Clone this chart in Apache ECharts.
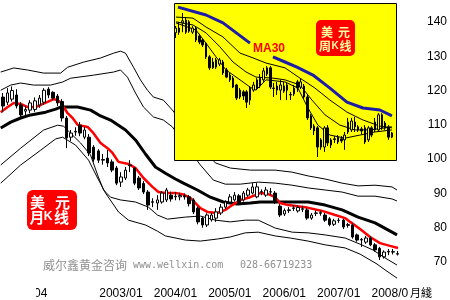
<!DOCTYPE html>
<html><head><meta charset="utf-8">
<script src="https://cdn.jsdelivr.net/npm/echarts/dist/echarts.min.js"></script>
<style>html,body{margin:0;padding:0;background:#fff}#c{width:450px;height:300px}</style>
</head><body><div id="c"></div>
<script>
// ---------- monthly (main) chart ----------
const monthCategories = [];
for (let i = 0; i < 88; i++) { const t = 2000 * 12 + 10 + i; monthCategories.push(Math.floor(t / 12) + '/' + String(t % 12 + 1).padStart(2, '0')); }
const xTickLabels = ['2001/04', '2003/01', '2004/01', '2005/01', '2006/01', '2007/01', '2008/01'];
const yTickLabels = [70, 80, 90, 100, 110, 120, 130, 140];

// [open, close, low, high]
const monthlyOHLC = [
[118.1,115.5,113.7,119.3],[116.6,119.3,115.8,120.7],[117.5,120.0,116.8,121.2],[118.7,115.5,114.8,120.4],[115.8,112.9,112.3,116.6],
[114.0,114.5,112.5,115.5],[114.3,116.4,113.4,117.2],[114.5,117.0,113.8,118.0],[115.8,117.8,115.0,118.7],[116.6,120.1,115.8,120.7],
[120.4,118.7,117.8,121.0],[119.5,117.8,117.2,119.8],[118.4,116.4,115.5,119.0],[116.8,112.0,111.0,117.5],[112.0,106.2,103.2,112.6],
[106.4,107.6,105.3,108.5],[107.9,108.1,106.8,109.3],[109.9,107.6,106.7,110.8],[106.4,108.5,105.8,109.4],[106.4,101.8,100.9,107.3],
[103.5,100.0,99.2,104.1],[102.4,99.7,98.9,102.9],[99.7,99.9,98.4,101.5],[100.3,98.9,97.7,102.7],[99.2,96.8,96.2,99.9],
[97.4,93.0,92.4,98.0],[93.3,94.8,91.9,96.2],[94.5,96.8,93.9,97.7],[98.1,98.3,96.2,99.7],[97.4,93.0,92.4,97.7],
[94.5,91.6,91.0,95.1],[92.9,90.4,89.8,93.6],[90.4,86.6,85.2,91.0],[87.4,87.6,86.0,88.6],[87.2,88.1,85.2,89.5],
[87.5,90.1,87.0,90.7],[88.1,91.0,87.5,91.6],[89.5,88.4,87.6,90.5],[89.2,89.0,88.0,90.4],[89.0,89.4,88.0,90.2],
[89.3,89.0,88.2,90.0],[89.0,87.0,86.2,89.5],[88.1,84.6,84.0,88.6],[85.7,81.7,81.0,86.2],[82.8,80.8,80.0,83.2],
[80.8,83.7,80.2,84.2],[82.3,83.7,81.8,84.4],[82.8,84.6,81.7,85.7],[84.3,86.0,83.7,86.9],[86.0,87.5,85.4,88.0],
[87.5,89.0,87.0,89.8],[88.1,89.5,87.6,90.4],[89.3,87.2,86.6,89.8],[88.1,90.1,87.6,90.7],[89.5,91.0,89.0,91.6],
[90.1,91.9,89.7,93.0],[89.0,91.9,88.6,93.0],[90.5,90.4,89.5,91.2],[89.5,91.0,89.0,91.9],[90.4,90.5,89.5,91.6],
[90.1,87.5,86.9,90.7],[86.3,83.7,83.1,86.9],[84.0,85.0,83.4,85.6],[85.0,85.2,84.3,86.0],[85.6,85.8,84.9,86.6],
[84.9,85.9,84.4,86.6],[85.5,85.4,84.6,86.4],[85.2,82.8,82.3,85.7],[82.8,83.7,82.3,84.3],[84.2,84.3,83.4,85.0],
[84.4,84.2,83.5,85.0],[83.7,82.2,81.7,84.3],[82.6,80.9,80.4,83.1],[81.0,82.0,80.5,82.6],[82.1,82.2,81.4,82.8],
[82.2,80.2,79.6,82.6],[80.9,80.7,80.0,81.4],[80.8,77.3,76.8,81.3],[77.9,76.4,75.9,78.3],[76.4,76.6,74.4,77.0],
[75.8,77.0,75.3,77.6],[77.0,75.0,74.6,77.6],[75.0,73.5,73.0,75.5],[74.0,71.5,70.6,74.4],[71.5,72.9,71.0,73.4],
[72.9,73.1,72.0,73.8],[73.0,72.9,72.2,73.8],[72.4,72.3,71.9,73.2]
];

// lines: [month index, value]
const redMA = [[-0.5,113.7],[1.04,115.2],[2.36,116.4],[3.9,116.1],[5.44,115.2],[7.2,115.2],[8.3,115.8],[9.84,116.7],[11.16,117.5],[12.04,117.2],[12.7,116.6],[13.36,115.2],[14.24,113.4],[15.34,112.0],[16.44,110.0],[18.64,109.4],[19.74,107.9],[21.5,104.7],[23.04,103.2],[24.14,101.8],[25.46,99.2],[27.66,98.6],[29.2,97.4],[30.96,94.5],[32.94,91.9],[34.26,90.4],[35.8,90.1],[38.0,90.1],[39.54,89.8],[41.3,88.7],[43.5,85.7],[45.04,84.6],[47.24,84.3],[49.0,85.2],[50.54,86.6],[52.3,88.1],[54.5,88.9],[56.7,90.1],[58.46,89.8],[60.0,88.9],[61.1,87.2],[62.86,86.6],[66.6,86.0],[70.34,84.9],[73.2,83.7],[75.4,82.8],[76.5,81.7],[78.7,79.6],[80.9,77.3],[83.1,75.5],[85.3,74.7],[87.06,74.1]];
const blackMA = [[-0.5,109.1],[1.7,110.8],[3.9,112.0],[6.1,112.9],[9.4,113.7],[11.6,114.6],[12.7,115.2],[16.44,115.2],[19.3,114.3],[21.5,112.6],[23.7,111.4],[27.0,108.5],[29.2,105.6],[31.4,101.5],[33.6,97.7],[35.8,95.9],[38.0,94.2],[39.76,93.0],[42.84,91.0],[45.7,88.9],[48.56,87.5],[51.64,86.9],[54.5,87.2],[56.7,87.5],[60.0,87.5],[63.74,87.5],[67.26,87.5],[71.0,86.6],[74.74,85.2],[78.26,83.1],[82.0,81.4],[85.74,78.7],[86.84,77.9]];
const bandUpper2 = [[-0.5,125.4],[2.36,126.6],[5.44,126.0],[8.96,125.1],[12.7,125.1],[14.24,126.8],[17.76,128.3],[21.5,129.5],[24.36,130.9],[25.9,131.5],[27.0,130.9],[28.76,126.8],[30.3,123.1],[31.84,120.1],[33.16,118.1],[35.36,117.2],[37.34,114.3],[42.4,105.6],[46.8,98.9],[50.1,97.4],[54.5,96.8],[60.0,96.8],[63.74,96.2],[67.26,95.1],[71.0,94.2],[74.74,93.0],[78.26,92.2],[82.0,92.4],[85.74,91.9],[86.84,91.0]];
const bandUpper1 = [[-0.5,120.1],[1.7,121.6],[3.9,122.2],[6.76,121.6],[10.5,121.6],[13.14,122.5],[14.9,123.6],[19.96,124.5],[24.36,125.4],[25.9,126.0],[27.44,123.9],[29.2,119.3],[30.96,115.2],[33.16,112.3],[35.36,111.4],[37.34,109.4],[40.2,104.1],[43.5,98.3],[46.36,93.9],[49.0,92.7],[52.3,92.7],[56.26,93.3],[60.0,93.0],[63.74,92.4],[67.26,91.6],[71.0,91.0],[74.74,90.4],[78.26,89.2],[82.0,89.2],[85.74,88.4],[86.84,87.8]];
const bandLower1 = [[-0.5,98.3],[3.9,103.2],[8.96,108.5],[12.04,109.9],[13.36,109.6],[15.34,107.0],[17.1,104.7],[19.3,101.2],[20.84,95.4],[22.16,91.0],[23.7,88.9],[25.9,88.1],[29.2,87.5],[32.06,86.0],[34.04,83.7],[36.24,82.5],[40.2,83.1],[43.5,83.4],[46.8,82.2],[50.1,81.7],[53.4,82.2],[56.26,82.2],[60.0,79.9],[63.74,78.7],[67.26,78.5],[71.0,77.9],[75.4,77.0],[78.7,75.2],[81.56,73.5],[84.2,71.2],[86.84,69.1]];
const bandLower2 = [[-0.5,93.0],[3.9,98.3],[8.3,102.6],[11.6,105.9],[13.14,106.4],[16.0,104.1],[18.86,99.7],[20.84,94.5],[22.6,90.1],[25.46,84.6],[27.66,82.2],[31.4,80.8],[34.04,79.0],[35.8,77.6],[40.2,76.4],[43.5,76.1],[47.24,76.7],[50.1,77.3],[53.4,78.5],[56.26,78.7],[60.0,77.6],[63.3,77.0],[67.26,76.1],[71.0,75.0],[75.4,74.1],[78.7,72.3],[82.44,69.4],[84.2,67.7],[86.84,65.3]];

// ---------- weekly (inset) chart ----------
const weekCategories = [];
for (let k = 0; k < 66; k++) weekCategories.push(String(k));
const weeklyOHLC = [
[136.8,138.2,135.3,138.8],[138.2,137.0,136.2,140.0],[139.7,140.3,137.0,142.6],[140.5,137.0,136.5,141.4],[140.0,137.3,136.8,140.5],
[137.0,138.2,136.5,138.8],[138.2,134.7,134.1,138.8],[135.9,134.1,133.5,136.5],[134.7,133.3,132.7,135.3],[133.8,129.8,129.2,134.1],
[129.8,126.6,126.0,130.3],[126.6,128.3,126.3,129.5],[126.8,128.9,126.3,129.5],[127.7,128.9,127.1,129.5],[128.3,125.1,124.5,128.9],
[126.0,123.9,123.6,126.6],[124.5,123.1,122.5,125.1],[123.6,121.0,120.7,124.2],[121.6,117.8,117.2,121.9],[120.1,118.1,117.5,120.7],
[119.6,118.4,117.2,120.1],[119.6,116.6,114.9,120.1],[117.2,120.7,115.8,121.3],[120.1,121.6,119.6,122.5],[120.7,123.1,120.1,123.6],
[121.3,123.6,120.7,124.8],[123.1,125.7,122.5,126.6],[124.8,126.6,124.2,127.1],[126.6,121.0,120.4,127.1],[120.7,120.6,118.1,122.2],
[120.1,121.3,118.7,122.5],[120.1,121.6,117.2,123.1],[119.8,121.3,119.3,122.5],[121.6,120.1,117.2,122.2],[118.8,118.7,117.2,119.6],
[119.0,120.7,118.4,121.6],[122.5,120.7,119.6,123.1],[121.0,122.5,120.4,123.6],[121.3,118.1,117.5,121.9],[118.1,112.0,111.4,118.7],
[112.6,109.1,108.5,113.1],[109.6,108.2,107.0,110.2],[109.1,103.5,100.6,109.6],[103.5,105.6,102.7,106.1],[103.5,109.1,102.1,109.6],
[109.1,104.7,103.8,109.9],[104.1,105.6,103.2,106.1],[105.9,105.7,104.7,106.7],[106.4,105.0,104.4,107.0],[105.9,105.3,104.7,106.7],
[105.6,107.0,102.7,107.9],[107.9,110.8,107.3,112.0],[108.5,111.1,107.9,112.0],[110.8,109.4,107.9,112.3],[109.4,108.5,107.9,109.9],
[108.8,108.2,107.3,109.4],[109.1,105.0,104.4,109.9],[105.6,109.1,105.0,109.6],[109.1,107.0,106.4,109.6],[108.5,110.8,107.9,112.0],
[108.5,112.9,107.9,113.4],[112.9,109.1,108.5,113.4],[110.5,109.1,108.5,111.1],[109.4,106.4,105.6,109.9],[106.4,107.6,106.1,107.9]
];
const ma30A = [[0.68,144.3],[8.97,142.0],[14.0,139.7],[21.98,133.8]];
const ma30B = [[28.79,129.8],[32.34,128.3],[35.89,126.8],[40.62,124.5],[45.65,120.7],[50.68,116.6],[55.42,114.9],[60.45,114.3],[64.0,112.6]];
const ma20 = [[0.09,141.4],[5.12,141.1],[8.97,138.5],[14.0,135.6],[19.03,130.9],[22.87,129.5],[26.72,128.0],[32.34,126.6],[36.78,123.6],[41.22,120.7],[45.65,117.2],[50.68,113.7],[55.42,111.4],[60.45,109.6],[64.0,109.1]];
const ma10 = [[0.09,140.0],[5.12,139.1],[8.97,136.8],[13.11,132.7],[16.96,128.3],[20.8,125.4],[23.76,123.9],[28.79,123.6],[32.34,123.1],[36.78,121.6],[40.33,117.2],[44.18,112.9],[48.61,109.9],[53.05,108.5],[57.49,108.5],[61.93,109.1],[64.0,109.4]];
const ma5 = [[0.09,139.7],[6.01,137.6],[8.97,133.8],[11.93,129.8],[14.88,126.0],[19.03,123.1],[21.98,121.0],[23.76,120.1],[26.72,123.1],[32.34,122.5],[36.18,120.7],[39.14,114.9],[42.1,109.9],[45.65,107.0],[50.09,106.1],[54.53,107.0],[58.96,107.9],[64.0,108.5]];

const chart = echarts.init(document.getElementById('c'), null, {renderer: 'canvas'});
function line(data, xi, yi, color, width, z) {
  return {type: 'line', xAxisIndex: xi, yAxisIndex: yi, data: data, showSymbol: false, symbol: 'none',
    clip: false, silent: true, z: z, lineStyle: {color: color, width: width}};
}
const T = (x, y, text, font, fill, align) => ({type: 'text', x: x, y: y, z: 30, silent: true,
  style: {text: text, font: font, fill: fill, textAlign: align || 'center', textVerticalAlign: 'middle'}});
const cjkB15 = 'bold 15px "Noto Sans CJK SC"';
const cjkB12 = 'bold 12px "Noto Sans CJK SC"';

chart.setOption({
  animation: false,
  backgroundColor: '#fff',
  grid: [
    {left: 0, top: 22, width: 400, height: 240},
    {left: 174, top: 3, width: 223, height: 158}
  ],
  xAxis: [
    {type: 'category', gridIndex: 0, data: monthCategories, boundaryGap: true,
     axisLine: {show: false}, axisTick: {show: false}, splitLine: {show: false},
     axisLabel: {interval: 0, margin: 26, fontSize: 12, color: '#000', fontFamily: 'Liberation Sans',
       formatter: v => xTickLabels.includes(v) ? v : ''}},
    {type: 'value', gridIndex: 0, min: -0.5, max: 87.5, show: false},
    {type: 'category', gridIndex: 1, data: weekCategories, show: false},
    {type: 'value', gridIndex: 1, min: -0.5, max: 65.5, show: false}
  ],
  yAxis: [
    {type: 'value', gridIndex: 0, position: 'right', min: yTickLabels[0], max: yTickLabels[yTickLabels.length - 1], interval: 10,
     axisLine: {show: false}, axisTick: {show: false}, splitLine: {show: false},
     axisLabel: {margin: 47, align: 'right', fontSize: 12, color: '#000', fontFamily: 'Liberation Sans'}},
    {type: 'value', gridIndex: 1, min: 99.44, max: 145.5, show: false}
  ],
  series: [
    line(bandUpper2, 1, 0, '#000', 1, 1),
    line(bandUpper1, 1, 0, '#000', 1, 1),
    line(bandLower1, 1, 0, '#000', 1, 1),
    line(bandLower2, 1, 0, '#000', 1, 1),
    {type: 'candlestick', xAxisIndex: 0, yAxisIndex: 0, data: monthlyOHLC, barWidth: 3, z: 2, silent: true,
     itemStyle: {color: '#fff', color0: '#000', borderColor: '#000', borderColor0: '#000', borderColorDoji: '#000', borderWidth: 1}},
    line(blackMA, 1, 0, '#000', 3, 2),
    line(redMA, 1, 0, '#ff0000', 2.5, 2),
    line(ma20, 3, 1, '#000', 1, 5),
    line(ma10, 3, 1, '#000', 1, 5),
    line(ma5, 3, 1, '#000', 1, 5),
    {type: 'candlestick', xAxisIndex: 2, yAxisIndex: 1, data: weeklyOHLC, barWidth: 2, z: 5, silent: true,
     itemStyle: {color: '#ffff00', color0: '#000', borderColor: '#000', borderColor0: '#000', borderColorDoji: '#000', borderWidth: 1}},
    line(ma30A, 3, 1, '#1c1ca8', 3, 6),
    line(ma30B, 3, 1, '#1c1ca8', 3, 6)
  ],
  graphic: [
    {type: 'rect', z: 3, silent: true, shape: {x: 174.5, y: 3.5, width: 222, height: 157}, style: {fill: '#ffff00', stroke: '#000', lineWidth: 1}},
    {type: 'rect', z: 30, silent: true, shape: {x: 0, y: 283, width: 36, height: 17}, style: {fill: '#fff'}},
    {type: 'rect', z: 30, silent: true, shape: {x: 408, y: 284, width: 30, height: 16}, style: {fill: '#fff'}},
    T(410, 293, '月綫', '11px "Noto Sans CJK TC"', '#000', 'left'),
    {type: 'rect', z: 29, silent: true, shape: {x: 27, y: 190, width: 50, height: 40, r: 6}, style: {fill: '#ff0000'}},
    T(37.5, 202, '美', cjkB15, '#fff'), T(62.5, 202, '元', cjkB15, '#fff'),
    T(37, 217, '月', cjkB15, '#fff'), T(48, 217, 'K', 'bold 12px "Liberation Sans"', '#fff'), T(61.5, 217, '线', cjkB15, '#fff'),
    {type: 'rect', z: 29, silent: true, shape: {x: 316, y: 20, width: 39, height: 36, r: 5}, style: {fill: '#ff0000'}},
    T(327, 32.5, '美', cjkB12, '#ffffa0'), T(344, 32.5, '元', cjkB12, '#ffffa0'),
    T(325, 46, '周', cjkB12, '#ffffa0'), T(335, 46, 'K', 'bold 10px "Liberation Sans"', '#ffffa0'), T(345.5, 46, '线', cjkB12, '#ffffa0'),
    T(253, 49, 'MA30', 'bold 12px "Liberation Sans"', '#ff0000', 'left'),
    T(43, 265, '威尔鑫黄金咨询', '12px "Noto Sans CJK SC"', '#909090', 'left'),
    T(133, 265, 'www.wellxin.com', '10px "DejaVu Sans Mono"', '#909090', 'left'),
    T(240, 265, '028-66719233', '10px "DejaVu Sans Mono"', '#909090', 'left')
  ]
});
</script></body></html>
